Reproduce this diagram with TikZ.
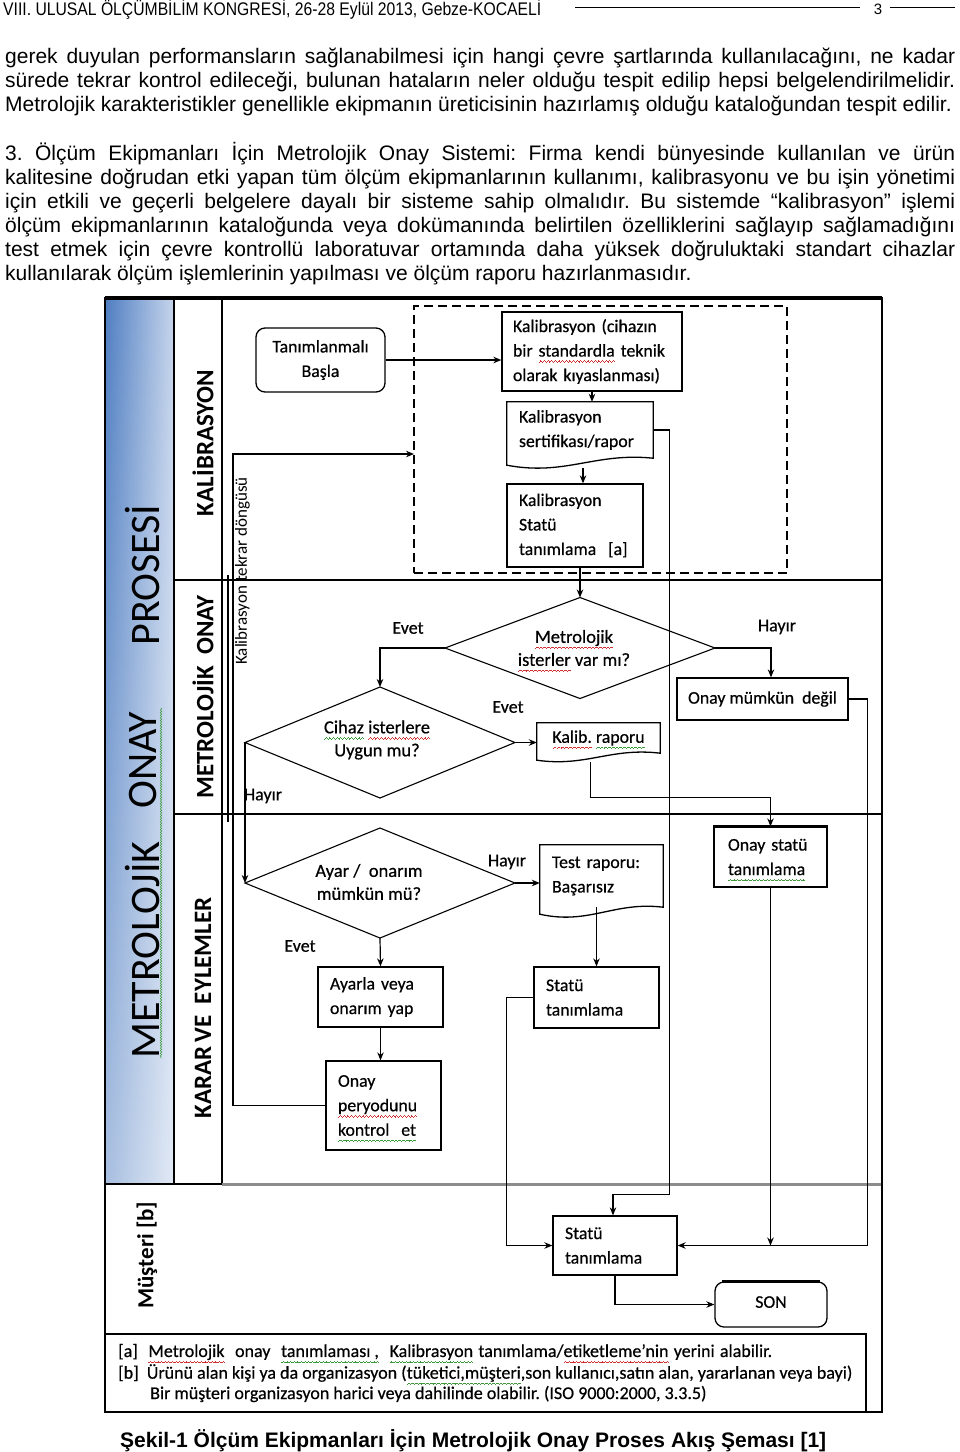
\documentclass[tikz,border=0pt]{standalone}
\usepackage{fontspec}
\setmainfont{Liberation Sans}
\newfontfamily\calfont[FakeBold=0.5]{Carlito}
\newfontfamily\calplain{Carlito}
\usetikzlibrary{arrows.meta,calc,decorations.pathmorphing,fadings}
\definecolor{colL}{HTML}{4F7EC2}
\definecolor{colR}{HTML}{C6D5EC}
\definecolor{sqred}{HTML}{D03030}
\definecolor{sqgreen}{HTML}{3A9A3A}
\newsavebox\wvbox
\newcommand\wavepiece{\hbox{\rule{0.9pt}{0.7pt}\rule[0.7pt]{0.9pt}{0.7pt}\rule[1.4pt]{0.9pt}{0.7pt}\rule[0.7pt]{0.9pt}{0.7pt}}}
\newcommand\wv[2]{\leavevmode\sbox\wvbox{#2}\rlap{\textcolor{#1}{\raisebox{-6pt}[0pt][0pt]{\hbox to\wd\wvbox{\xleaders\wavepiece\hfil}}}}\usebox\wvbox}
\newcommand\rw[1]{\wv{sqred}{#1}}
\newcommand\gw[1]{\wv{sqgreen}{#1}}
\tikzfading[name=fadedown, top color=transparent!100, bottom color=transparent!0]
\newcommand\docout[2]{\draw[line width=1.3pt] (#1.north west) -- (#1.north east) -- (#1.south east)
  .. controls ($(#1.south east)!0.4!(#1.south west)+(0,-6)$) and ($(#1.south east)!0.6!(#1.south west)+(0,#2)$) .. ($(#1.south west)+(0,7)$) -- cycle;}
\newcommand\diam[5]{%
  \coordinate (#1N) at ({#2},{#3-#5});
  \coordinate (#1S) at ({#2},{#3+#5});
  \coordinate (#1W) at ({#2-#4},{#3});
  \coordinate (#1E) at ({#2+#4},{#3});
  \draw[line width=1.1pt] (#1N) -- (#1E) -- (#1S) -- (#1W) -- cycle;}
\frenchspacing
\begin{document}
\begin{tikzpicture}[x=1pt,y=-1pt,
  arr/.style={-{Stealth[length=8pt,width=6.5pt]}, line width=1.2pt},
  ln/.style={line width=1.3pt},
  box/.style={draw, line width=1.3pt, font=\calfont\fontsize{17.8}{24.5}\selectfont, align=left, inner ysep=0pt},
  cbox/.style={box, align=center},
  doc/.style={font=\calfont\fontsize{17.8}{24.5}\selectfont, align=left, inner ysep=0pt},
  dtext/.style={font=\calfont\fontsize{18.5}{23}\selectfont, align=center, inner sep=0pt},
  lbl/.style={font=\calfont\fontsize{18}{18}\selectfont, inner sep=0pt},
  lane/.style={font=\calplain\bfseries\fontsize{25}{25}\selectfont, rotate=90, inner sep=0pt},
  big/.style={font=\calplain\fontsize{42}{42}\selectfont, rotate=90, inner sep=0pt},
  ptxt/.style={font=\fontsize{21}{24}\selectfont, anchor=base west, inner sep=0pt},
  fn/.style={font=\calfont\fontsize{18}{18}\selectfont, anchor=west, inner sep=0pt},
  sq/.style={decorate, decoration={snake, amplitude=0.7pt, segment length=2.6pt}, line width=0.55pt},
]
\useasboundingbox (0,0) rectangle (960,1452);
\fill[white] (0,0) rectangle (960,1452);

% ---------- page header ----------
\node[anchor=base west, inner sep=0pt] (hdr) at (3,15) {\resizebox{538pt}{!}{\scalebox{0.86}[1]{\fontsize{14.5}{14.5}\selectfont VIII. ULUSAL ÖLÇÜMBİLİM KONGRESİ, 26-28 Eylül 2013, Gebze-KOCAELİ}}};
\node[font=\fontsize{15}{15}\selectfont, inner sep=0pt] (pg) at (878,9) {3};
\draw[line width=0.8pt] (575,7) -- (860,7);
\draw[line width=0.8pt] (890,7) -- (955,7);

% ---------- paragraphs ----------
\node[ptxt] (p1a) at (5,63.5) {\makebox[950pt][s]{gerek duyulan performansların sağlanabilmesi için hangi çevre şartlarında kullanılacağını, ne kadar}};
\node[ptxt] (p1b) at (5,87.5) {\makebox[950pt][s]{sürede tekrar kontrol edileceği, bulunan hataların neler olduğu tespit edilip hepsi belgelendirilmelidir.}};
\node[ptxt] (p1c) at (5,111.5) {Metrolojik karakteristikler genellikle ekipmanın üreticisinin hazırlamış olduğu kataloğundan tespit edilir.};
\node[ptxt] (p2a) at (5,160) {\makebox[950pt][s]{3. Ölçüm Ekipmanları İçin Metrolojik Onay Sistemi: Firma kendi bünyesinde kullanılan ve ürün}};
\node[ptxt] (p2b) at (5,184) {\makebox[950pt][s]{kalitesine doğrudan etki yapan tüm ölçüm ekipmanlarının kullanımı, kalibrasyonu ve bu işin yönetimi}};
\node[ptxt] (p2c) at (5,208) {\makebox[950pt][s]{için etkili ve geçerli belgelere dayalı bir sisteme sahip olmalıdır. Bu sistemde “kalibrasyon” işlemi}};
\node[ptxt] (p2d) at (5,232) {\makebox[950pt][s]{ölçüm ekipmanlarının kataloğunda veya dokümanında belirtilen özelliklerini sağlayıp sağlamadığını}};
\node[ptxt] (p2e) at (5,256) {\makebox[950pt][s]{test etmek için çevre kontrollü laboratuvar ortamında daha yüksek doğruluktaki standart cihazlar}};
\node[ptxt] (p2f) at (5,280) {kullanılarak ölçüm işlemlerinin yapılması ve ölçüm raporu hazırlanmasıdır.};

% ---------- swimlane frame ----------
\shade[left color=colL, right color=colR] (105,298) rectangle (174,1184);
\fill[white, fill opacity=0.5, path fading=fadedown] (105,298) rectangle (174,1184);
\draw[ln] (174,298) -- (174,1184);
\draw[ln] (222,298) -- (222,1184);
\draw[ln] (228,575) -- (228,822);
\draw[ln] (174,580) -- (882,580);
\draw[ln] (174,814) -- (882,814);
\draw[ln] (105,1184) -- (222,1184);
\draw[line width=3pt, black!45] (222,1184) -- (882,1184);
\draw[line width=1.5pt] (105,298) rectangle (882,1412);
\draw[line width=3.5pt] (105,298) -- (882,298);
\draw[ln] (105,1334) rectangle (866,1412);

% big vertical title
\node[big] (bigP) at (143,575) {PROSESİ};
\node[big] (bigO) at (143,760) {ONAY};
\node[big] (bigM) at (143,950) {METROLOJİK};
\draw[sq, sqgreen] (161,708) -- (161,1058);

% lane labels
\node[lane] (lk) at (203,443) {KALİBRASYON};
\node[lane] (lm) at (203,697) {METROLOJİK\ \ ONAY};
\node[lane] (le) at (203,1008) {KARAR\,VE\ \ EYLEMLER};
\node[lane, font=\calplain\bfseries\fontsize{23}{23}\selectfont] (lmu) at (147,1255) {Müşteri [b]};
\node[font=\calplain\fontsize{17}{17}\selectfont, rotate=90, inner sep=0pt] (loopl) at (242.5,571) {Kalibrasyon tekrar döngüsü};

% ---------- Kalibrasyon lane ----------
\node[draw, dashed, line width=2pt, dash pattern=on 9pt off 5pt, minimum width=373pt, minimum height=267pt, inner sep=0pt] (dbox) at (600.5,439.5) {};
\coordinate (looptgt) at (414,454);
\node[cbox, rounded corners=9pt, minimum width=129pt, minimum height=64pt, inner xsep=4pt] (start) at (320.5,360) {Tanımlanmalı\\Başla};
\node[box, minimum width=180pt, minimum height=79pt, text width=158pt, inner xsep=11pt] (kal) at (592,351.5) {Kalibrasyon (cihazın\\bir \rw{standardla} teknik\\olarak kıyaslanması)};
\node[doc, minimum width=146pt, minimum height=56pt, text width=122pt, inner xsep=12pt] (cert) at (580,430) {Kalibrasyon\\sertifikası/rapor};
\docout{cert}{18}
\node[box, minimum width=136pt, minimum height=83pt, text width=112pt, inner xsep=12pt] (kstat) at (575,525.5) {Kalibrasyon\\Statü\\tanımlama\ \ [a]};

% ---------- Metrolojik onay lane ----------
\diam{metd}{580}{648}{135}{50.5}
\node[dtext] (metd) at (574,648) {\rw{Metrolojik}\\\rw{isterler} var mı?};
\diam{cihaz}{380}{742.5}{135}{55.5}
\node[dtext] (cihaz) at (377,740) {\gw{Cihaz} \rw{isterlere}\\Uygun mu?};
\node[doc, align=center, minimum width=123pt, minimum height=30pt, inner xsep=4pt] (kalib) at (598.5,738) {\rw{Kalib.} \gw{raporu}};
\docout{kalib}{14}
\node[cbox, minimum width=171pt, minimum height=42pt] (onaymd) at (762.5,699) {Onay mümkün\ \ değil};
\node[lbl] (e1) at (408,628) {Evet};
\node[lbl] (h1) at (777,627) {Hayır};
\node[lbl] (e2) at (508,707) {Evet};
\node[lbl] (h2) at (263,796) {Hayır};

% ---------- Karar ve eylemler lane ----------
\diam{ayar}{380}{883}{135}{55}
\node[dtext] (ayar) at (369,882) {Ayar /\ \ onarım\\mümkün mü?};
\node[doc, minimum width=123pt, minimum height=62pt, text width=99pt, inner xsep=12pt] (test) at (601.5,876) {Test raporu:\\Başarısız};
\docout{test}{18}
\node[box, minimum width=125pt, minimum height=61pt, text width=101pt, inner xsep=12pt] (statu1) at (596.5,997.5) {Statü\\tanımlama};
\node[box, minimum width=125pt, minimum height=60pt, text width=101pt, inner xsep=12pt] (ayarla) at (380.5,997) {Ayarla veya\\onarım yap};
\node[box, minimum width=115pt, minimum height=89pt, text width=91pt, inner xsep=12pt] (periyot) at (383.5,1105.5) {Onay\\\rw{peryodunu}\\\gw{kontrol\ \ et}};
\node[box, minimum width=113pt, minimum height=60pt, text width=85pt, inner xsep=14pt] (onaystat) at (770.5,857) {Onay statü\\\gw{tanımlama}};
\draw[line width=2.6pt] (onaystat.north west) -- (onaystat.north east);
\node[lbl] (h3) at (507,862) {Hayır};
\node[lbl] (e3) at (300,946) {Evet};

% ---------- Musteri lane ----------
\node[box, minimum width=124pt, minimum height=59pt, text width=100pt, inner xsep=12pt] (statu2) at (615,1245.5) {Statü\\tanımlama};
\node[cbox, rounded corners=9pt, minimum width=112pt, minimum height=45pt, inner ysep=0pt] (son) at (771,1304.5) {\raisebox{5pt}{SON}};
\draw[line width=2.6pt] ($(son.north west)+(8,0)$) -- ($(son.north east)+(-8,0)$);

% ---------- connectors ----------
\draw[arr] (start.east) -- (start.east -| kal.west);
\draw[arr] (kal.south) -- (kal.south |- cert.north);
\draw[arr] ($(cert.south)+(3,10)$) -- ($(kstat.north)+(8,0)$);
\draw[arr] (metdN |- kstat.south) -- (metdN);
\draw[arr] (cert.east) -- ++(16,0) |- ($(statu2.north)+(-2,-21)$) -- ($(statu2.north)+(-2,0)$);
\draw[arr] (metdW) -| (cihazN);
\draw[arr] (metdE) -| ($(onaymd.north)+(8.5,0)$);
\draw[arr] (cihazE) -- (cihazE -| kalib.west);
\draw[arr] ($(kalib.south)+(-8,9)$) |- ($(onaystat.north)+(0,-29)$) -- (onaystat.north);
\draw[arr] (cihazW) -- (ayarW);
\draw[arr] (ayarE) -- (ayarE -| test.west);
\draw[arr] (statu1.north |- test.south) -- (statu1.north);
\draw[arr] (statu1.west) -- ++(-27,0) |- (statu2.west);
\draw[arr] (onaymd.east) -- ++(19,0) |- (statu2.east);
\draw[arr] (onaystat.south) -- (onaystat.south |- statu2.east);
\draw[arr] (ayarS) -- (ayarla.north);
\draw[arr] (ayarla.south) -- (ayarla.south |- periyot.north);
\draw[arr] (periyot.west) -| ($(looptgt)+(-181,0)$) -- (looptgt);
\draw[arr] (statu2.south) |- (son.west);

% ---------- footnotes ----------
\node[fn] (fa) at (118,1352) {\makebox[654pt][s]{[a]\ \ \rw{Metrolojik}\ \ onay\ \ \gw{tanımlaması ,}\ \ \gw{Kalibrasyon} tanımlama/\rw{etiketleme’nin} yerini alabilir.}};
\node[fn] (fb) at (118,1373) {[b]\ \ Ürünü alan kişi ya da organizasyon (\gw{tüketici,müşteri},son kullanıcı,satın alan, yararlanan veya bayi)};
\node[fn] (fc) at (150,1394) {Bir müşteri organizasyon harici veya dahilinde olabilir. (ISO 9000:2000, 3.3.5)};

% ---------- caption ----------
\node[anchor=base west, inner sep=0pt] (cap) at (120,1447) {\resizebox{706pt}{!}{\bfseries\fontsize{20}{20}\selectfont Şekil-1 Ölçüm Ekipmanları İçin Metrolojik Onay Proses Akış Şeması [1]}};
\end{tikzpicture}
\end{document}
